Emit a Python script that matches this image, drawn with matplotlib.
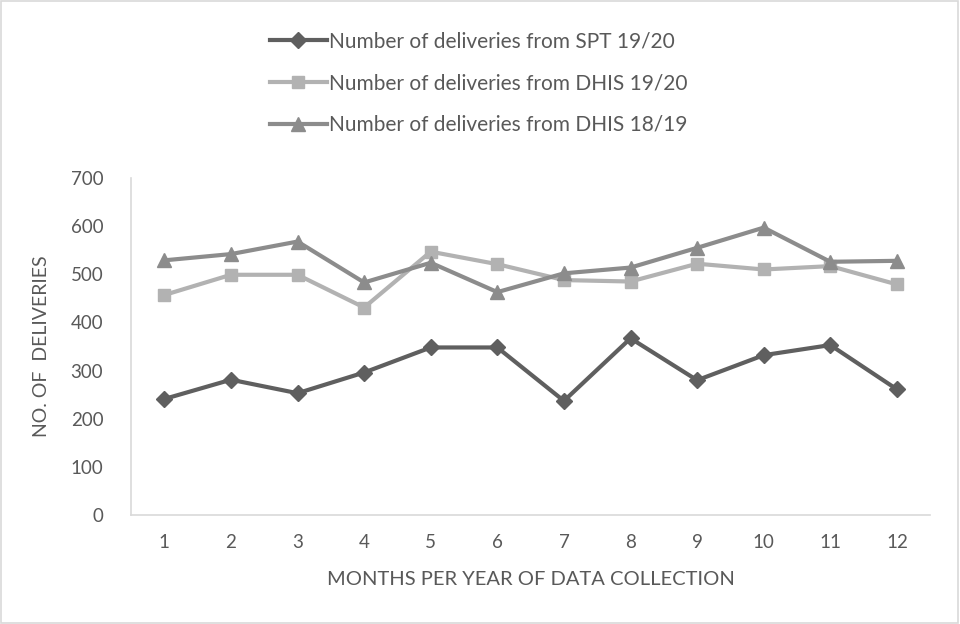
import matplotlib.pyplot as plt
from matplotlib.patches import Rectangle

months = ["1", "2", "3", "4", "5", "6", "7", "8", "9", "10", "11", "12"]
spt_1920 = [241, 281, 253, 296, 348, 348, 237, 367, 280, 332, 353, 261]
dhis_1920 = [457, 499, 499, 431, 547, 521, 488, 485, 522, 510, 517, 479]
dhis_1819 = [529, 542, 568, 483, 524, 463, 502, 514, 555, 597, 526, 528]

plt.rcParams['font.family'] = ['Lato', 'DejaVu Sans']

fig = plt.figure(figsize=(9.6, 6.24), dpi=100)
ax = fig.add_axes([0.1365, 0.1747, 0.8325, 0.54])

x = list(range(len(months)))
ax.plot(x, spt_1920, color='#5f5f5f', lw=3, marker='D', ms=8,
        label='Number of deliveries from SPT 19/20')
ax.plot(x, dhis_1920, color='#b2b2b2', lw=3, marker='s', ms=9,
        label='Number of deliveries from DHIS 19/20')
ax.plot(x, dhis_1819, color='#8c8c8c', lw=3, marker='^', ms=10,
        label='Number of deliveries from DHIS 18/19')

ax.set_xlim(-0.5, len(months) - 0.5)
ax.set_ylim(0, 700)
ax.set_yticks(range(0, 701, 100))
ax.set_xticks(x)
ax.set_xticklabels(months)
ax.tick_params(length=0, labelsize=13.5, colors='#595959')
ax.tick_params(axis='y', pad=20)
ax.tick_params(axis='x', pad=14)
for s in ['top', 'right']:
    ax.spines[s].set_visible(False)
for s in ['left', 'bottom']:
    ax.spines[s].set_color('#d9d9d9')
    ax.spines[s].set_linewidth(1.2)

ax.set_xlabel('MONTHS PER YEAR OF DATA COLLECTION', fontsize=14.5,
              color='#595959', labelpad=14)
ax.set_ylabel('NO. OF  DELIVERIES', fontsize=14, color='#595959', labelpad=15)

fig.legend(loc='upper left', bbox_to_anchor=(0.262, 0.98), frameon=False,
           fontsize=15, handlelength=2.7, handletextpad=0.1,
           labelspacing=1.05, labelcolor='#595959')

fig.patches.append(Rectangle((0.001, 0.001), 0.997, 0.997, transform=fig.transFigure,
                             fill=False, edgecolor='#d9d9d9', lw=1.2))

fig.savefig('out.png', dpi=100)
